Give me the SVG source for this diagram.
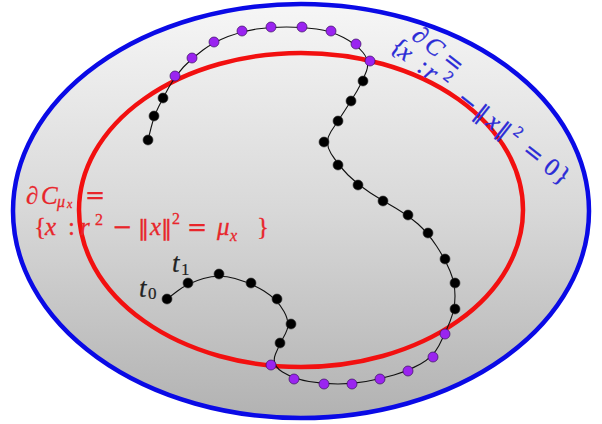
<svg xmlns="http://www.w3.org/2000/svg" width="602" height="424" viewBox="0 0 602 424">
<defs>
<linearGradient id="bg" x1="0" y1="0" x2="0" y2="1">
<stop offset="0" stop-color="#f6f6f6"/>
<stop offset="0.5" stop-color="#d8d8d8"/>
<stop offset="1" stop-color="#b2b2b2"/>
</linearGradient>
</defs>
<style>
text{font-family:"Liberation Serif","DejaVu Serif",serif;font-size:25px}
.i{font-style:italic}
.s{font-size:16px}
.ss{font-size:12px}
.op{font-family:"DejaVu Serif","Liberation Serif",serif;font-size:24px}
.nm{font-family:"DejaVu Sans","DejaVu Serif",sans-serif;font-size:22px}
.red{fill:#e8262b;stroke:#e8262b;stroke-width:0.3}
.blue{fill:#2b2bd6;stroke:#2b2bd6;stroke-width:0.3}
.bk{fill:#222;stroke:#222;stroke-width:0.2}
.dot{fill:#000;stroke:#333;stroke-width:0.6}
.pur{fill:#9a24f0;stroke:#3a1060;stroke-width:0.7}
</style>
<rect width="602" height="424" fill="#fff"/>
<g id="outer-set">
<ellipse cx="301" cy="211" rx="288" ry="207" fill="url(#bg)" stroke="#0a0ae6" stroke-width="4.5"/>
</g>
<g id="inner-set">
<ellipse cx="301" cy="210" rx="222" ry="157" fill="none" stroke="#f21010" stroke-width="4.5"/>
</g>
<g id="connectors">
<path d="M167,299 L177.5,291 Q188,283 203.5,278.5 Q219,274 235,278.5 Q251,283 264,291 Q277,299 284,311.5 Q291,324 285.5,333.5 Q280,343 275.5,354 Q271,365 282.5,372 Q294,379 309,381.5 Q324,384 338,384 Q352,384 366,381.5 Q380,379 394,375 Q408,371 420.5,364 Q433,357 439,345.5 Q445,334 450,321.5 Q455,309 455,296 Q455,283 450,271 Q445,259 436.5,246 Q428,233 418,224 Q408,215 395.5,208 Q383,201 370.5,193 Q358,185 348,175 Q338,165 331,153.5 Q324,142 331,131.5 Q338,121 344.5,111 Q351,101 357,91 Q363,81 366.5,71 Q370,61 363,52.5 Q356,44 343.5,37.5 Q331,31 316.5,29 Q302,27 286.5,27 Q271,27 256.5,29 Q242,31 228,36.5 Q214,42 203,50 Q192,58 183.5,67 Q175,76 169,87 Q163,98 158.5,107 Q154,116 151,128 L148,140" fill="none" stroke="#111" stroke-width="1.1"/>
</g>
<g id="trajectory-points">
<circle class="dot" cx="167" cy="299" r="5"/>
<circle class="dot" cx="188" cy="283" r="5"/>
<circle class="dot" cx="219" cy="274" r="5"/>
<circle class="dot" cx="251" cy="283" r="5"/>
<circle class="dot" cx="277" cy="299" r="5"/>
<circle class="dot" cx="291" cy="324" r="5"/>
<circle class="dot" cx="280" cy="343" r="5"/>
<circle class="pur" cx="271" cy="365" r="5"/>
<circle class="pur" cx="294" cy="379" r="5"/>
<circle class="pur" cx="324" cy="384" r="5"/>
<circle class="pur" cx="352" cy="384" r="5"/>
<circle class="pur" cx="380" cy="379" r="5"/>
<circle class="pur" cx="408" cy="371" r="5"/>
<circle class="pur" cx="433" cy="357" r="5"/>
<circle class="pur" cx="445" cy="334" r="5"/>
<circle class="dot" cx="455" cy="309" r="5"/>
<circle class="dot" cx="455" cy="283" r="5"/>
<circle class="dot" cx="445" cy="259" r="5"/>
<circle class="dot" cx="428" cy="233" r="5"/>
<circle class="dot" cx="408" cy="215" r="5"/>
<circle class="dot" cx="383" cy="201" r="5"/>
<circle class="dot" cx="358" cy="185" r="5"/>
<circle class="dot" cx="338" cy="165" r="5"/>
<circle class="dot" cx="324" cy="142" r="5"/>
<circle class="dot" cx="338" cy="121" r="5"/>
<circle class="dot" cx="351" cy="101" r="5"/>
<circle class="dot" cx="363" cy="81" r="5"/>
<circle class="pur" cx="370" cy="61" r="5"/>
<circle class="pur" cx="356" cy="44" r="5"/>
<circle class="pur" cx="331" cy="31" r="5"/>
<circle class="pur" cx="302" cy="27" r="5"/>
<circle class="pur" cx="271" cy="27" r="5"/>
<circle class="pur" cx="242" cy="31" r="5"/>
<circle class="pur" cx="214" cy="42" r="5"/>
<circle class="pur" cx="192" cy="58" r="5"/>
<circle class="pur" cx="175" cy="76" r="5"/>
<circle class="dot" cx="163" cy="98" r="5"/>
<circle class="dot" cx="154" cy="116" r="5"/>
<circle class="dot" cx="148" cy="140" r="5"/>
</g>
<g id="time-labels">
<text class="bk" y="297" style="font-size:27px"><tspan class="i" x="139">t</tspan><tspan x="148" y="299" style="font-size:17px">0</tspan></text>
<text class="bk" y="272" style="font-size:27px"><tspan class="i" x="172">t</tspan><tspan x="181" y="275" style="font-size:17px">1</tspan></text>
</g>
<g id="label-inner">
<text class="red" y="204"><tspan x="26" class="i">∂</tspan><tspan x="41" class="i">C</tspan><tspan x="57" y="207" class="i s">μ</tspan><tspan x="67" y="208" class="i ss">x</tspan><tspan x="85" y="203" class="op">=</tspan></text>
<text class="red" y="235"><tspan x="34">{</tspan><tspan x="45" class="i">x</tspan><tspan x="68">:</tspan><tspan x="80" class="i">r</tspan><tspan x="95" y="225" class="s">2</tspan><tspan x="112" y="235" class="op">−</tspan><tspan x="138" class="nm">‖</tspan><tspan x="150" class="i">x</tspan><tspan x="161" class="nm">‖</tspan><tspan x="172" y="224" class="s">2</tspan><tspan x="187" y="235" class="op">=</tspan><tspan x="217" class="i">μ</tspan><tspan x="230" y="241" class="i s">x</tspan><tspan x="257" y="235">}</tspan></text>
</g>
<g id="label-outer" transform="translate(389,49) rotate(38.3)">
<text class="blue" y="-22"><tspan x="10" class="i">∂</tspan><tspan x="26" class="i">C</tspan><tspan x="49" class="op">=</tspan></text>
<text class="blue" y="0"><tspan x="0">{</tspan><tspan x="10" class="i">x</tspan><tspan x="34">:</tspan><tspan x="43" class="i">r</tspan><tspan x="60" y="-10" class="s">2</tspan><tspan x="84" y="0" class="op">−</tspan><tspan x="107" class="nm">‖</tspan><tspan x="122" class="i">x</tspan><tspan x="135" class="nm">‖</tspan><tspan x="149" y="-10" class="s">2</tspan><tspan x="168" y="0" class="op">=</tspan><tspan x="195">0</tspan><tspan x="209">}</tspan></text>
</g>
</svg>
